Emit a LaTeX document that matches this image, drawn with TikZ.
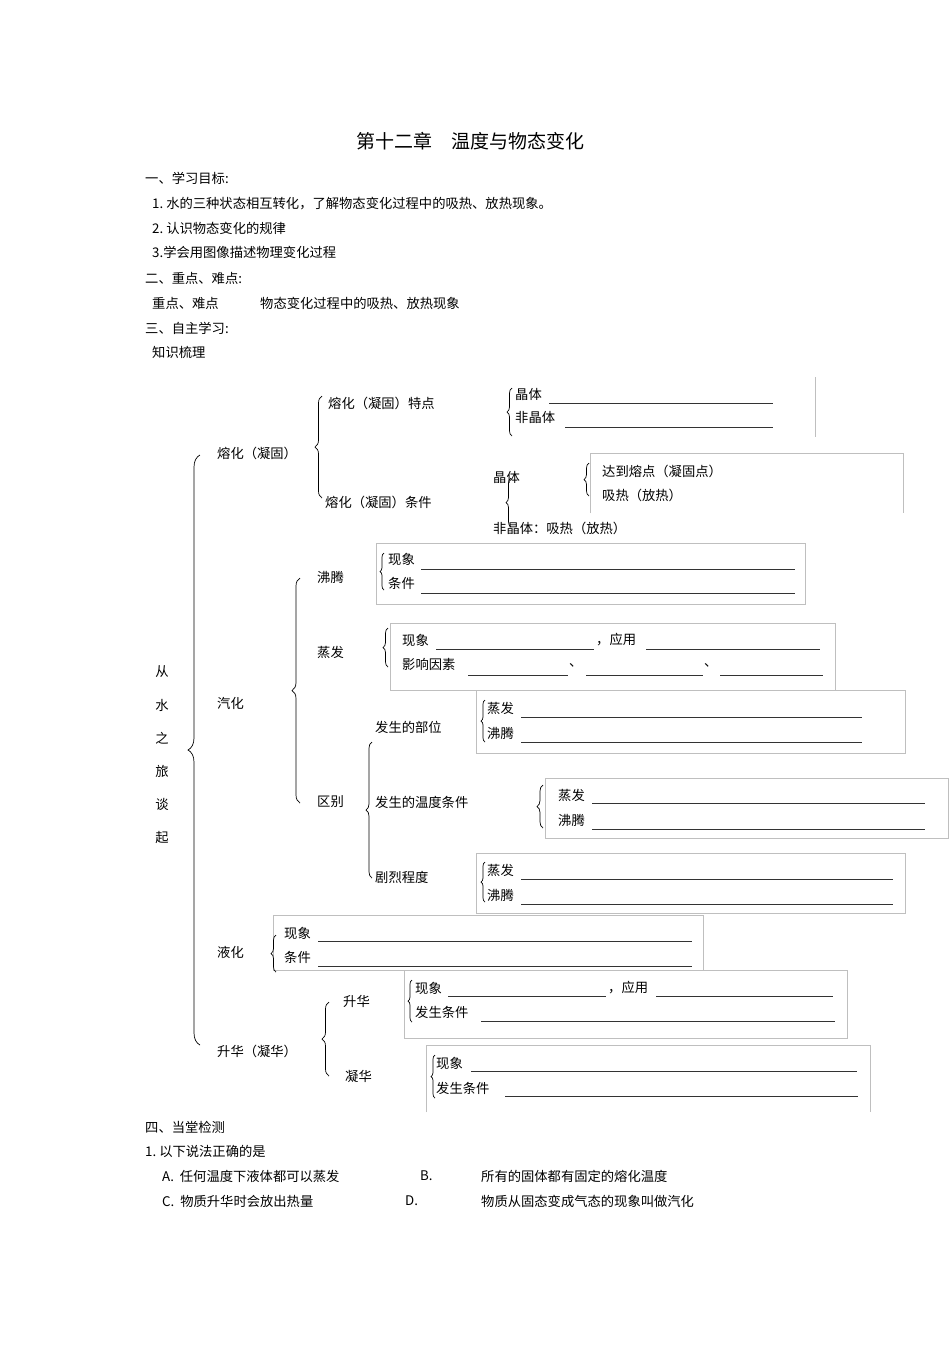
\documentclass[tikz,border=0pt]{standalone}
\usepackage{fontspec}
\setmainfont{Noto Sans CJK SC}
\usetikzlibrary{decorations.pathreplacing}
\begin{document}
\begin{tikzpicture}[x=1pt,y=-1pt,
  t/.style={anchor=west,inner sep=0pt,font=\fontsize{13.3}{15}\selectfont},
  bl/.style={line width=0.9pt,draw=black!80},
  br/.style={decorate,decoration={brace,amplitude=#1},line width=0.7pt},
  br/.default=6pt,
  bx/.style={draw=black!25,line width=0.6pt}]
\useasboundingbox[fill=white] (0,0) rectangle (950,1345);
\node[inner sep=0pt,font=\fontsize{19}{21}\selectfont] (title) at (470,141) {第十二章\hspace{1em}温度与物态变化};
\node[t] (a1) at (145,178) {一、学习目标:};
\node[t] (a2) at (152,204) {1.\ 水的三种状态相互转化，了解物态变化过程中的吸热、放热现象。};
\node[t] (a3) at (152,228) {2.\ 认识物态变化的规律};
\node[t] (a4) at (152,252) {3.学会用图像描述物理变化过程};
\node[t] (a5) at (145,278) {二、重点、难点:};
\node[t] (a6) at (152,303) {重点、难点};
\node[t] (a7) at (260,303) {物态变化过程中的吸热、放热现象};
\node[t] (a8) at (145,328) {三、自主学习:};
\node[t] (a9) at (152,352) {知识梳理};
% vertical title
\foreach \c/\y [count=\i] in {从/672,水/705,之/738,旅/771,谈/804,起/837}
  \node[t,anchor=center] (v\i) at (162,\y) {\c};
% big brace
\draw[br=12pt] (200,1045) -- (200,455);
% boxes
\draw[bx] (815,377) -- (815,437);
\draw[bx] (590,513) -- (590,453) -- (903,453) -- (903,513);
\draw[bx] (376,543) rectangle (805,604);
\draw[bx] (390,623) rectangle (835,690);
\draw[bx] (476,690) rectangle (905,753);
\draw[bx] (545,778) rectangle (948,838);
\draw[bx] (476,853) rectangle (905,913);
\draw[bx] (273,915) rectangle (703,970);
\draw[bx] (703,915) -- (703,970);
\draw[bx] (404,970) rectangle (847,1038);
\draw[bx] (426,1112) -- (426,1045) -- (870,1045) -- (870,1112);
% 熔化
\node[t] (m) at (217,453) {熔化（凝固）};
\draw[br=7pt] (322,498) -- (322,396);
\node[t] (m1) at (328,403) {熔化（凝固）特点};
\node[t] (m2) at (325,502) {熔化（凝固）条件};
\draw[br=5pt] (512,436) -- (512,388);
\node[t] (m11) at (515,394) {晶体};
\draw[bl] (549,403) -- (773,403);
\node[t] (m12) at (515,417) {非晶体};
\draw[bl] (565,427) -- (773,427);
\node[t] (m21) at (493,477) {晶体};
\draw[br=5pt] (511,527) -- (511,478);
\node[t] (m22) at (493,528) {非晶体：吸热（放热）};
\draw[br=5pt] (589,496) -- (589,463);
\node[t] (m23) at (602,471) {达到熔点（凝固点）};
\node[t] (m24) at (602,495) {吸热（放热）};
% 汽化
\node[t] (q) at (217,703) {汽化};
\draw[br=8pt] (300,803) -- (300,578);
\node[t] (q1) at (317,577) {沸腾};
\draw[br=4pt] (384,590) -- (384,553);
\node[t] (q11) at (388,559) {现象};
\draw[bl] (421,569) -- (795,569);
\node[t] (q12) at (388,583) {条件};
\draw[bl] (421,593) -- (795,593);
\node[t] (q2) at (317,652) {蒸发};
\draw[br=5pt] (388,667) -- (388,628);
\node[t] (q21) at (402,640) {现象};
\draw[bl] (436,649) -- (594,649);
\node[t] (q22) at (596,640) {，应用};
\draw[bl] (646,649) -- (820,649);
\node[t] (q23) at (402,664) {影响因素};
\draw[bl] (468,675) -- (568,675);
\node[t] (q24) at (569,665) {、};
\draw[bl] (586,675) -- (703,675);
\node[t] (q25) at (704,665) {、};
\draw[bl] (720,675) -- (823,675);
\node[t] (q3) at (317,802) {区别};
\draw[br=6pt] (372,878) -- (372,742);
\node[t] (q31) at (375,727) {发生的部位};
\draw[br=4pt] (485,742) -- (485,700);
\node[t] (q311) at (487,708) {蒸发};
\draw[bl] (521,717) -- (862,717);
\node[t] (q312) at (487,733) {沸腾};
\draw[bl] (521,742) -- (862,742);
\node[t] (q32) at (375,802) {发生的温度条件};
\draw[br=6pt] (543,828) -- (543,785);
\node[t] (q321) at (558,795) {蒸发};
\draw[bl] (592,803) -- (925,803);
\node[t] (q322) at (558,820) {沸腾};
\draw[bl] (592,829) -- (925,829);
\node[t] (q33) at (375,877) {剧烈程度};
\draw[br=4pt] (485,902) -- (485,862);
\node[t] (q331) at (487,870) {蒸发};
\draw[bl] (521,879) -- (893,879);
\node[t] (q332) at (487,895) {沸腾};
\draw[bl] (521,904) -- (893,904);
% 液化
\node[t] (y) at (217,952) {液化};
\draw[br=5pt] (276,972) -- (276,935);
\node[t] (y1) at (284,933) {现象};
\draw[bl] (318,941) -- (692,941);
\node[t] (y2) at (284,957) {条件};
\draw[bl] (318,966) -- (692,966);
% 升华
\node[t] (s) at (217,1051) {升华（凝华）};
\draw[br=7pt] (329,1076) -- (329,1002);
\node[t] (s1) at (343,1001) {升华};
\node[t] (s2) at (345,1076) {凝华};
\draw[br=4pt] (412,1022) -- (412,980);
\node[t] (s11) at (415,988) {现象};
\draw[bl] (448,996) -- (606,996);
\node[t] (s12) at (608,988) {，应用};
\draw[bl] (656,996) -- (833,996);
\node[t] (s13) at (415,1012) {发生条件};
\draw[bl] (481,1021) -- (835,1021);
\draw[br=4pt] (435,1098) -- (435,1055);
\node[t] (s21) at (436,1063) {现象};
\draw[bl] (471,1071) -- (857,1071);
\node[t] (s22) at (436,1088) {发生条件};
\draw[bl] (505,1096) -- (858,1096);
% test
\node[t] (d1) at (145,1127) {四、当堂检测};
\node[t] (d2) at (145,1151) {1.\ 以下说法正确的是};
\node[t] (dA) at (162,1176) {A.\ \ 任何温度下液体都可以蒸发};
\node[t] (dB) at (420,1176) {B.};
\node[t] (dB2) at (481,1176) {所有的固体都有固定的熔化温度};
\node[t] (dC) at (162,1201) {C.\ \ 物质升华时会放出热量};
\node[t] (dD) at (405,1201) {D.};
\node[t] (dD2) at (481,1201) {物质从固态变成气态的现象叫做汽化};
\end{tikzpicture}
\end{document}
